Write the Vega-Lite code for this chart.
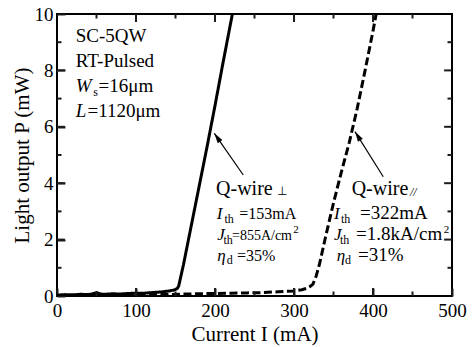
{
  "$schema": "https://vega.github.io/schema/vega-lite/v6.json",
  "width": 395,
  "height": 282,
  "autosize": {"type": "none"},
  "padding": {"left": 57, "top": 14, "right": 22, "bottom": 51},
  "background": "white",
  "config": {
    "view": {"stroke": "black", "strokeWidth": 2},
    "font": "Liberation Serif",
    "axis": {
      "domain": false,
      "grid": false,
      "labelFont": "Liberation Serif",
      "titleFont": "Liberation Serif",
      "labelColor": "black",
      "titleColor": "black",
      "labelFontSize": 19,
      "titleFontSize": 21,
      "titleFontWeight": "normal",
      "labelFlush": false,
      "labelOverlap": false,
      "labelBound": false
    }
  },
  "datasets": {
    "curves": [
      {"I": 0, "P": 0.03, "s": "perp"}, {"I": 10, "P": 0.05, "s": "perp"}, {"I": 20, "P": 0.04, "s": "perp"},
      {"I": 30, "P": 0.06, "s": "perp"}, {"I": 40, "P": 0.05, "s": "perp"}, {"I": 45, "P": 0.08, "s": "perp"},
      {"I": 50, "P": 0.12, "s": "perp"}, {"I": 55, "P": 0.07, "s": "perp"}, {"I": 60, "P": 0.06, "s": "perp"},
      {"I": 70, "P": 0.08, "s": "perp"}, {"I": 80, "P": 0.07, "s": "perp"}, {"I": 90, "P": 0.09, "s": "perp"},
      {"I": 100, "P": 0.1, "s": "perp"}, {"I": 110, "P": 0.1, "s": "perp"}, {"I": 120, "P": 0.12, "s": "perp"},
      {"I": 130, "P": 0.14, "s": "perp"}, {"I": 140, "P": 0.17, "s": "perp"}, {"I": 148, "P": 0.21, "s": "perp"},
      {"I": 152, "P": 0.26, "s": "perp"}, {"I": 154, "P": 0.35, "s": "perp"}, {"I": 156, "P": 0.6, "s": "perp"},
      {"I": 160, "P": 1.1, "s": "perp"}, {"I": 170, "P": 2.5, "s": "perp"}, {"I": 180, "P": 3.9, "s": "perp"},
      {"I": 190, "P": 5.3, "s": "perp"}, {"I": 200, "P": 6.75, "s": "perp"}, {"I": 210, "P": 8.25, "s": "perp"},
      {"I": 222, "P": 10, "s": "perp"},
      {"I": 0, "P": 0.0, "s": "par"}, {"I": 20, "P": 0.02, "s": "par"}, {"I": 40, "P": 0.04, "s": "par"},
      {"I": 60, "P": 0.03, "s": "par"}, {"I": 80, "P": 0.05, "s": "par"}, {"I": 100, "P": 0.05, "s": "par"},
      {"I": 120, "P": 0.06, "s": "par"}, {"I": 140, "P": 0.05, "s": "par"}, {"I": 160, "P": 0.07, "s": "par"},
      {"I": 180, "P": 0.08, "s": "par"}, {"I": 200, "P": 0.09, "s": "par"}, {"I": 220, "P": 0.1, "s": "par"},
      {"I": 240, "P": 0.11, "s": "par"}, {"I": 260, "P": 0.12, "s": "par"}, {"I": 280, "P": 0.15, "s": "par"},
      {"I": 300, "P": 0.18, "s": "par"}, {"I": 310, "P": 0.22, "s": "par"}, {"I": 316, "P": 0.27, "s": "par"},
      {"I": 320, "P": 0.33, "s": "par"}, {"I": 324, "P": 0.42, "s": "par"}, {"I": 328, "P": 0.7, "s": "par"},
      {"I": 332, "P": 1.1, "s": "par"}, {"I": 340, "P": 2.1, "s": "par"}, {"I": 350, "P": 3.3, "s": "par"},
      {"I": 360, "P": 4.4, "s": "par"}, {"I": 370, "P": 5.45, "s": "par"}, {"I": 380, "P": 6.65, "s": "par"},
      {"I": 390, "P": 8.0, "s": "par"}, {"I": 400, "P": 9.4, "s": "par"}, {"I": 404, "P": 10, "s": "par"}
    ],
    "xmaj": [{"v": 100}, {"v": 200}, {"v": 300}, {"v": 400}],
    "xmin": [{"v": 50}, {"v": 150}, {"v": 250}, {"v": 350}, {"v": 450}],
    "ymaj": [{"v": 2}, {"v": 4}, {"v": 6}, {"v": 8}],
    "ymin": [{"v": 1}, {"v": 3}, {"v": 5}, {"v": 7}, {"v": 9}],
    "arrows": [
      {"x": 235.8, "y": 4.29, "x2": 199.1, "y2": 5.77},
      {"x": 413.0, "y": 4.23, "x2": 377.2, "y2": 5.83}
    ],
    "head1": [{"x": 199.1, "y": 5.77}],
    "head2": [{"x": 377.2, "y": 5.83}],
    "roman19": [
      {"x": 23.7, "y": 9.0, "t": "SC-5QW"},
      {"x": 23.7, "y": 8.12, "t": "RT-Pulsed"},
      {"x": 52.5, "y": 7.23, "t": "=16μm"},
      {"x": 38.5, "y": 6.35, "t": "=1120μm"}
    ],
    "italic19": [
      {"x": 23.7, "y": 7.23, "t": "W"},
      {"x": 23.7, "y": 6.35, "t": "L"}
    ],
    "qwire": [
      {"x": 201.3, "y": 3.58, "t": "Q-wire"},
      {"x": 373.0, "y": 3.58, "t": "Q-wire"}
    ],
    "italic17": [
      {"x": 202.2, "y": 2.73, "t": "I"},
      {"x": 202.9, "y": 1.99, "t": "J"},
      {"x": 202.9, "y": 1.24, "t": "η"},
      {"x": 350.6, "y": 2.73, "t": "I"},
      {"x": 350.6, "y": 1.99, "t": "J"},
      {"x": 354.1, "y": 1.24, "t": "η"}
    ],
    "leftParams16": [
      {"x": 230.8, "y": 2.73, "t": "=153mA"},
      {"x": 227.8, "y": 1.24, "t": "=35%"}
    ],
    "leftParams14": [
      {"x": 221.5, "y": 1.99, "t": "=855A/cm"}
    ],
    "rightParams": [
      {"x": 383.5, "y": 2.73, "t": "=322mA"},
      {"x": 378.5, "y": 1.99, "t": "=1.8kA/cm"},
      {"x": 381.0, "y": 1.24, "t": "=31%"}
    ],
    "sub12": [
      {"x": 45.9, "y": 7.09, "t": "s"},
      {"x": 212.0, "y": 2.59, "t": "th"},
      {"x": 210.8, "y": 1.84, "t": "th"},
      {"x": 214.8, "y": 1.13, "t": "d"},
      {"x": 359.5, "y": 2.59, "t": "th"},
      {"x": 358.2, "y": 1.84, "t": "th"},
      {"x": 364.6, "y": 1.13, "t": "d"},
      {"x": 278.5, "y": 3.58, "t": "⊥"}
    ],
    "italic12": [
      {"x": 446.8, "y": 3.55, "t": "//"}
    ],
    "sup11": [
      {"x": 299.0, "y": 2.23, "t": "2"},
      {"x": 489.5, "y": 2.23, "t": "2"}
    ]
  },
  "layer": [
    {
      "data": {"name": "curves"},
      "mark": {"type": "line", "strokeWidth": 3, "color": "black", "clip": true},
      "encoding": {
        "x": {
          "field": "I", "type": "quantitative",
          "scale": {"domain": [0, 500], "nice": false},
          "axis": {
            "orient": "bottom",
            "values": [0, 100, 200, 300, 400, 500],
            "tickSize": -8,
            "tickColor": "#1c1c1c",
            "tickWidth": 2,
            "labelPadding": 13,
            "title": "Current  I (mA)",
            "titlePadding": 3
          }
        },
        "y": {
          "field": "P", "type": "quantitative",
          "scale": {"domain": [0, 10], "nice": false},
          "axis": {
            "orient": "left",
            "values": [0, 2, 4, 6, 8, 10],
            "tickSize": -8,
            "tickColor": "#1c1c1c",
            "tickWidth": 2,
            "labelPadding": 12,
            "title": "Light output P (mW)",
            "titlePadding": 2
          }
        },
        "strokeDash": {
          "field": "s", "type": "nominal",
          "scale": {"domain": ["perp", "par"], "range": [[1, 0], [8, 3.5]]},
          "legend": null
        }
      }
    },
    {
      "data": {"name": "arrows"},
      "mark": {"type": "rule", "strokeWidth": 1.2, "color": "black"},
      "encoding": {
        "x": {"field": "x", "type": "quantitative", "axis": null},
        "y": {"field": "y", "type": "quantitative", "axis": null},
        "x2": {"field": "x2"},
        "y2": {"field": "y2"}
      }
    },
    {
      "data": {"name": "head1"},
      "mark": {"type": "point", "shape": "M0,0L0.45,1.6L-0.45,1.6Z", "size": 160, "filled": true, "color": "black", "opacity": 1, "strokeWidth": 0, "angle": -34.8},
      "encoding": {
        "x": {"field": "x", "type": "quantitative", "axis": null},
        "y": {"field": "y", "type": "quantitative", "axis": null}
      }
    },
    {
      "data": {"name": "head2"},
      "mark": {"type": "point", "shape": "M0,0L0.45,1.6L-0.45,1.6Z", "size": 160, "filled": true, "color": "black", "opacity": 1, "strokeWidth": 0, "angle": -32.2},
      "encoding": {
        "x": {"field": "x", "type": "quantitative", "axis": null},
        "y": {"field": "y", "type": "quantitative", "axis": null}
      }
    },
    {
      "data": {"name": "roman19"},
      "mark": {"type": "text", "font": "Liberation Serif", "fontSize": 19, "align": "left", "baseline": "alphabetic", "color": "black"},
      "encoding": {
        "x": {"field": "x", "type": "quantitative", "axis": null},
        "y": {"field": "y", "type": "quantitative", "axis": null},
        "text": {"field": "t"}
      }
    },
    {
      "data": {"name": "italic19"},
      "mark": {"type": "text", "font": "Liberation Serif", "fontSize": 19, "fontStyle": "italic", "align": "left", "baseline": "alphabetic", "color": "black"},
      "encoding": {
        "x": {"field": "x", "type": "quantitative", "axis": null},
        "y": {"field": "y", "type": "quantitative", "axis": null},
        "text": {"field": "t"}
      }
    },
    {
      "data": {"name": "qwire"},
      "mark": {"type": "text", "font": "Liberation Serif", "fontSize": 20, "align": "left", "baseline": "alphabetic", "color": "black"},
      "encoding": {
        "x": {"field": "x", "type": "quantitative", "axis": null},
        "y": {"field": "y", "type": "quantitative", "axis": null},
        "text": {"field": "t"}
      }
    },
    {
      "data": {"name": "italic17"},
      "mark": {"type": "text", "font": "Liberation Serif", "fontSize": 17, "fontStyle": "italic", "align": "left", "baseline": "alphabetic", "color": "black"},
      "encoding": {
        "x": {"field": "x", "type": "quantitative", "axis": null},
        "y": {"field": "y", "type": "quantitative", "axis": null},
        "text": {"field": "t"}
      }
    },
    {
      "data": {"name": "leftParams16"},
      "mark": {"type": "text", "font": "Liberation Serif", "fontSize": 16, "align": "left", "baseline": "alphabetic", "color": "black"},
      "encoding": {
        "x": {"field": "x", "type": "quantitative", "axis": null},
        "y": {"field": "y", "type": "quantitative", "axis": null},
        "text": {"field": "t"}
      }
    },
    {
      "data": {"name": "leftParams14"},
      "mark": {"type": "text", "font": "Liberation Serif", "fontSize": 14, "align": "left", "baseline": "alphabetic", "color": "black"},
      "encoding": {
        "x": {"field": "x", "type": "quantitative", "axis": null},
        "y": {"field": "y", "type": "quantitative", "axis": null},
        "text": {"field": "t"}
      }
    },
    {
      "data": {"name": "rightParams"},
      "mark": {"type": "text", "font": "Liberation Serif", "fontSize": 19, "align": "left", "baseline": "alphabetic", "color": "black"},
      "encoding": {
        "x": {"field": "x", "type": "quantitative", "axis": null},
        "y": {"field": "y", "type": "quantitative", "axis": null},
        "text": {"field": "t"}
      }
    },
    {
      "data": {"name": "sub12"},
      "mark": {"type": "text", "font": "Liberation Serif", "fontSize": 12, "align": "left", "baseline": "alphabetic", "color": "black"},
      "encoding": {
        "x": {"field": "x", "type": "quantitative", "axis": null},
        "y": {"field": "y", "type": "quantitative", "axis": null},
        "text": {"field": "t"}
      }
    },
    {
      "data": {"name": "italic12"},
      "mark": {"type": "text", "font": "Liberation Serif", "fontSize": 12, "fontStyle": "italic", "align": "left", "baseline": "alphabetic", "color": "black"},
      "encoding": {
        "x": {"field": "x", "type": "quantitative", "axis": null},
        "y": {"field": "y", "type": "quantitative", "axis": null},
        "text": {"field": "t"}
      }
    },
    {
      "data": {"name": "sup11"},
      "mark": {"type": "text", "font": "Liberation Serif", "fontSize": 11, "align": "left", "baseline": "alphabetic", "color": "black"},
      "encoding": {
        "x": {"field": "x", "type": "quantitative", "axis": null},
        "y": {"field": "y", "type": "quantitative", "axis": null},
        "text": {"field": "t"}
      }
    },
    {
      "data": {"name": "xmaj"},
      "mark": {"type": "rule", "strokeWidth": 2, "color": "#1c1c1c"},
      "encoding": {
        "x": {"field": "v", "type": "quantitative", "axis": null},
        "y": {"datum": 0, "type": "quantitative", "axis": null},
        "y2": {"datum": 0.28}
      }
    },
    {
      "data": {"name": "xmaj"},
      "mark": {"type": "rule", "strokeWidth": 2, "color": "#1c1c1c"},
      "encoding": {
        "x": {"field": "v", "type": "quantitative", "axis": null},
        "y": {"datum": 10, "type": "quantitative", "axis": null},
        "y2": {"datum": 9.72}
      }
    },
    {
      "data": {"name": "xmin"},
      "mark": {"type": "rule", "strokeWidth": 2, "color": "#1c1c1c"},
      "encoding": {
        "x": {"field": "v", "type": "quantitative", "axis": null},
        "y": {"datum": 0, "type": "quantitative", "axis": null},
        "y2": {"datum": 0.16}
      }
    },
    {
      "data": {"name": "xmin"},
      "mark": {"type": "rule", "strokeWidth": 2, "color": "#1c1c1c"},
      "encoding": {
        "x": {"field": "v", "type": "quantitative", "axis": null},
        "y": {"datum": 10, "type": "quantitative", "axis": null},
        "y2": {"datum": 9.84}
      }
    },
    {
      "data": {"name": "ymaj"},
      "mark": {"type": "rule", "strokeWidth": 2, "color": "#1c1c1c"},
      "encoding": {
        "y": {"field": "v", "type": "quantitative", "axis": null},
        "x": {"datum": 0, "type": "quantitative", "axis": null},
        "x2": {"datum": 10}
      }
    },
    {
      "data": {"name": "ymaj"},
      "mark": {"type": "rule", "strokeWidth": 2, "color": "#1c1c1c"},
      "encoding": {
        "y": {"field": "v", "type": "quantitative", "axis": null},
        "x": {"datum": 500, "type": "quantitative", "axis": null},
        "x2": {"datum": 490}
      }
    },
    {
      "data": {"name": "ymin"},
      "mark": {"type": "rule", "strokeWidth": 2, "color": "#1c1c1c"},
      "encoding": {
        "y": {"field": "v", "type": "quantitative", "axis": null},
        "x": {"datum": 0, "type": "quantitative", "axis": null},
        "x2": {"datum": 5.7}
      }
    },
    {
      "data": {"name": "ymin"},
      "mark": {"type": "rule", "strokeWidth": 2, "color": "#1c1c1c"},
      "encoding": {
        "y": {"field": "v", "type": "quantitative", "axis": null},
        "x": {"datum": 500, "type": "quantitative", "axis": null},
        "x2": {"datum": 494.3}
      }
    }
  ],
  "resolve": {"axis": {"x": "independent", "y": "independent"}}
}
